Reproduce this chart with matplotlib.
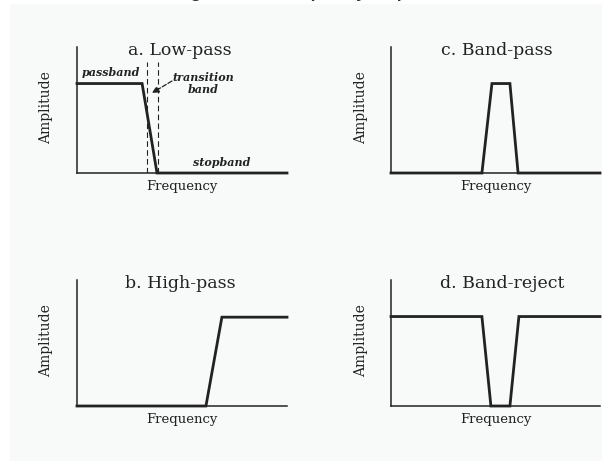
import matplotlib.pyplot as plt
from matplotlib.patches import Rectangle

# normalised frequency (0..1) and amplitude (0..1) for each response
lowpass_f = [0.0, 0.31, 0.381, 1.0]
lowpass_a = [0.71, 0.71, 0.0, 0.0]

highpass_f = [0.0, 0.614, 0.69, 1.0]
highpass_a = [0.0, 0.0, 0.705, 0.705]

bandpass_f = [0.0, 0.435, 0.483, 0.569, 0.608, 1.0]
bandpass_a = [0.0, 0.0, 0.71, 0.71, 0.0, 0.0]

bandreject_f = [0.0, 0.435, 0.478, 0.569, 0.612, 1.0]
bandreject_a = [0.71, 0.71, 0.0, 0.0, 0.71, 0.71]

transition_edges = [0.333, 0.386]

titles = ["a. Low-pass", "b. High-pass", "c. Band-pass", "d. Band-reject"]

W, H = 602, 461
fig = plt.figure(figsize=(W / 100, H / 100), dpi=100, facecolor="white")
fig.patches.append(Rectangle((10 / W, 0), 1, 1 - 4 / H, transform=fig.transFigure,
                             facecolor="#f8f9f9", edgecolor="none", zorder=-5))

# header, mostly cut off by the top of the picture
fig.text(342 / W, 1 + 2.5 / H, "Figure 14-3. Frequency response curves",
         ha="center", va="baseline", fontsize=12.5, fontweight="bold",
         family="Liberation Sans", color="#333333")

ink = "#222222"
serif = "DejaVu Serif"


def make_ax(left_px, top_px, right_px, bottom_px):
    ax = fig.add_axes([left_px / W, 1 - bottom_px / H,
                       (right_px - left_px) / W, (bottom_px - top_px) / H])
    ax.set_xlim(0, 1)
    ax.set_ylim(0, 1)
    ax.set_facecolor("none")
    for s in ["top", "right"]:
        ax.spines[s].set_visible(False)
    for s in ["left", "bottom"]:
        ax.spines[s].set_linewidth(1.1)
        ax.spines[s].set_color(ink)
    ax.set_xticks([])
    ax.set_yticks([])
    return ax


def decorate(ax, title, tx):
    ax.text(tx, 0.975, title, transform=ax.transAxes, ha="center", va="center",
            fontsize=12.5, family=serif, color=ink)
    ax.text(0.5, -0.11, "Frequency", transform=ax.transAxes, ha="center",
            va="center", fontsize=9.5, family=serif, color=ink)
    ax.text(-0.145, 0.52, "Amplitude", transform=ax.transAxes, ha="center",
            va="center", rotation=90, fontsize=10, family=serif, color=ink)


ax_a = make_ax(77, 47, 287, 173)
ax_b = make_ax(77, 280, 287, 406)
ax_c = make_ax(391, 47, 600, 173)
ax_d = make_ax(391, 280, 600, 406)

for ax, f, a in [(ax_a, lowpass_f, lowpass_a), (ax_b, highpass_f, highpass_a),
                 (ax_c, bandpass_f, bandpass_a), (ax_d, bandreject_f, bandreject_a)]:
    ax.plot(f, a, color=ink, lw=2.0, solid_joinstyle="miter", clip_on=False)

decorate(ax_a, titles[0], 0.49)
decorate(ax_b, titles[1], 0.49)
decorate(ax_c, titles[2], 0.507)
decorate(ax_d, titles[3], 0.53)

# low-pass annotations
for x in transition_edges:
    ax_a.plot([x, x], [0, 0.88], color=ink, lw=0.8, ls=(0, (5, 3)))
ax_a.text(0.162, 0.795, "passband", ha="center", va="center", style="italic",
          fontweight="bold", fontsize=8, family=serif, color=ink)
ax_a.text(0.6, 0.71, "transition\nband", ha="center", va="center", style="italic",
          fontweight="bold", fontsize=8, family=serif, color=ink, linespacing=1.05)
ax_a.text(0.69, 0.08, "stopband", ha="center", va="center", style="italic",
          fontweight="bold", fontsize=8, family=serif, color=ink)
ax_a.annotate("", xy=(0.357, 0.635), xytext=(0.452, 0.73),
              arrowprops=dict(arrowstyle="-|>", color=ink, lw=0.9, ls="--",
                              mutation_scale=10, shrinkA=0, shrinkB=0))

fig.savefig("out.png", dpi=100, facecolor=fig.get_facecolor())
